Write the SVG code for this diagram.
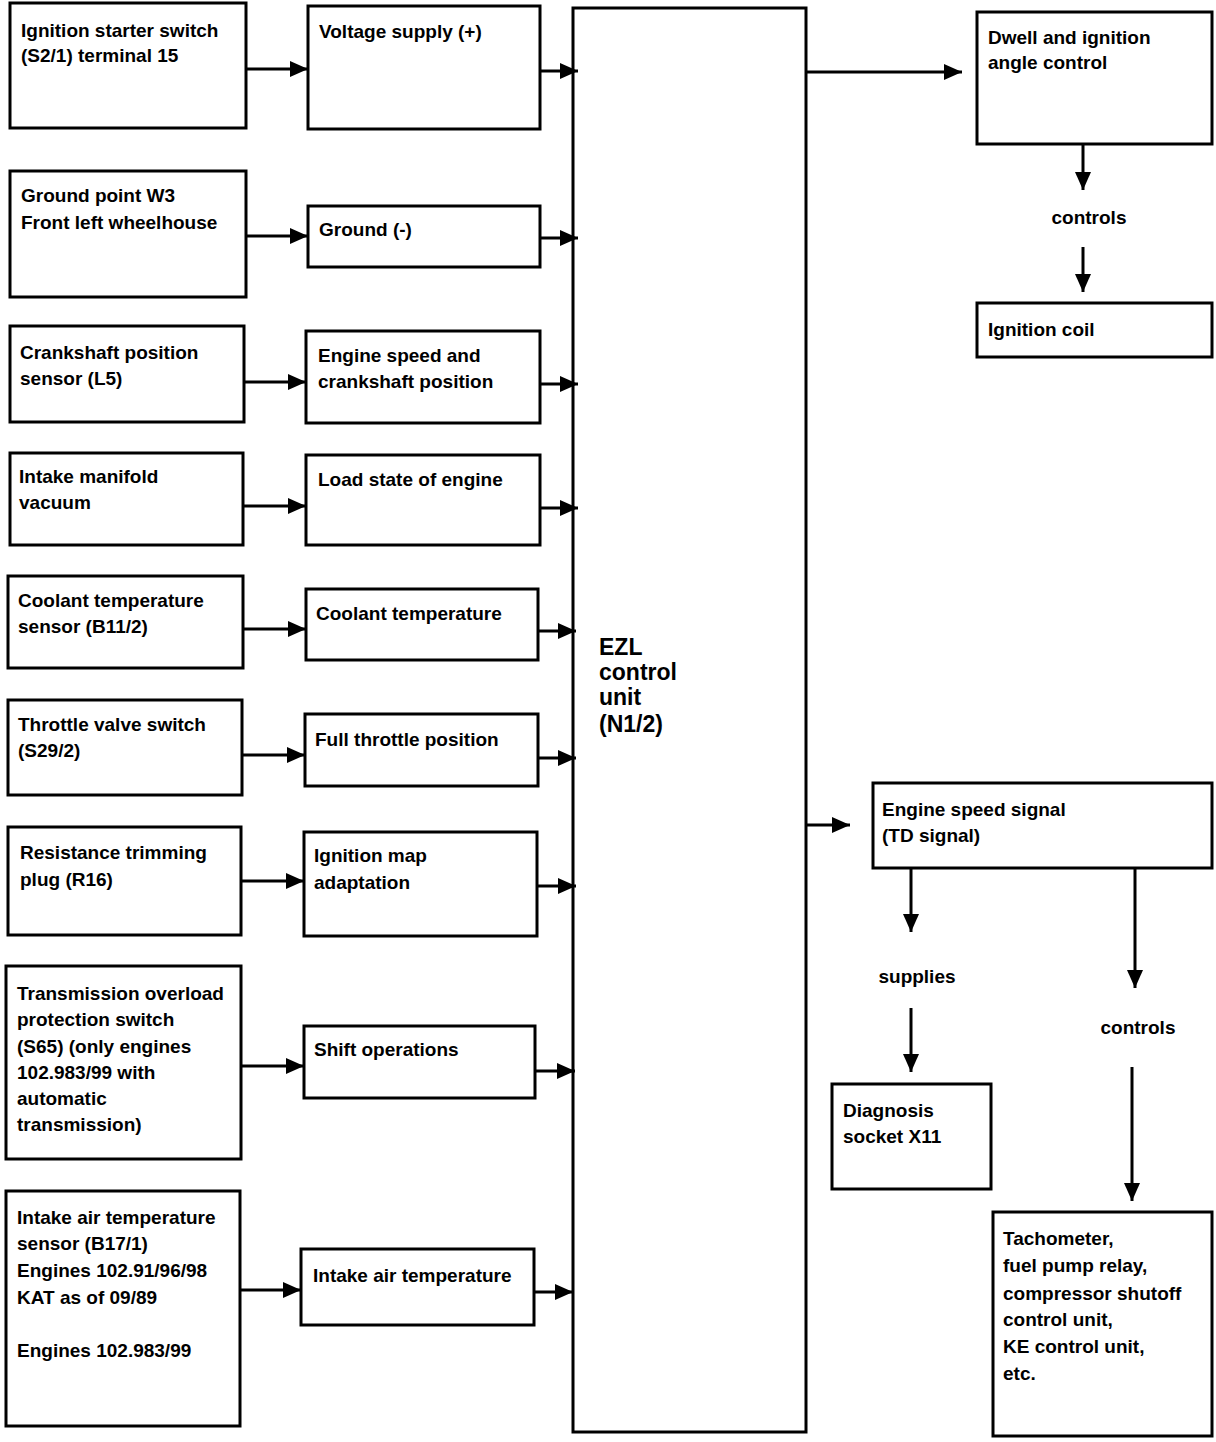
<svg xmlns="http://www.w3.org/2000/svg" width="1216" height="1442" viewBox="0 0 1216 1442">
<style>
.b{fill:#fff;stroke:#000;stroke-width:3}
.t{font-family:"Liberation Sans",Arial,sans-serif;font-size:19px;font-weight:bold;fill:#000}
.big{font-family:"Liberation Sans",Arial,sans-serif;font-size:23px;font-weight:bold;fill:#000}
.c{stroke:#000;stroke-width:3;fill:none;marker-end:url(#ah)}
</style>
<defs>
<marker id="ah" markerUnits="userSpaceOnUse" markerWidth="20" markerHeight="16" refX="18" refY="8" orient="auto">
<path d="M0,0 L18,8 L0,16 Z" fill="#000"/>
</marker>
</defs>
<rect width="1216" height="1442" fill="#fff"/>

<g id="n-ignition-switch"><rect class="b" x="10" y="3" width="236" height="125"/><text class="t" x="21" y="37">Ignition starter switch</text><text class="t" x="21" y="62">(S2/1) terminal 15</text></g>
<g id="n-voltage"><rect class="b" x="308" y="6" width="232" height="123"/><text class="t" x="319" y="38">Voltage supply (+)</text></g>
<g id="n-ground-point"><rect class="b" x="10" y="171" width="236" height="126"/><text class="t" x="21" y="202">Ground point W3</text><text class="t" x="21" y="229">Front left wheelhouse</text></g>
<g id="n-ground"><rect class="b" x="308" y="206" width="232" height="61"/><text class="t" x="319" y="236">Ground (-)</text></g>
<g id="n-crank-sensor"><rect class="b" x="10" y="326" width="234" height="96"/><text class="t" x="20" y="359">Crankshaft position</text><text class="t" x="20" y="385">sensor (L5)</text></g>
<g id="n-engine-speed"><rect class="b" x="306" y="331" width="234" height="92"/><text class="t" x="318" y="362">Engine speed and</text><text class="t" x="318" y="388">crankshaft position</text></g>
<g id="n-manifold"><rect class="b" x="10" y="453" width="233" height="92"/><text class="t" x="19" y="483">Intake manifold</text><text class="t" x="19" y="509">vacuum</text></g>
<g id="n-load"><rect class="b" x="306" y="455" width="234" height="90"/><text class="t" x="318" y="486">Load state of engine</text></g>
<g id="n-coolant-sensor"><rect class="b" x="8" y="576" width="235" height="92"/><text class="t" x="18" y="607">Coolant temperature</text><text class="t" x="18" y="633">sensor (B11/2)</text></g>
<g id="n-coolant"><rect class="b" x="306" y="589" width="232" height="71"/><text class="t" x="316" y="620">Coolant temperature</text></g>
<g id="n-throttle-switch"><rect class="b" x="8" y="700" width="234" height="95"/><text class="t" x="18" y="731">Throttle valve switch</text><text class="t" x="18" y="757">(S29/2)</text></g>
<g id="n-full-throttle"><rect class="b" x="305" y="714" width="233" height="72"/><text class="t" x="315" y="746">Full throttle position</text></g>
<g id="n-resistance"><rect class="b" x="8" y="827" width="233" height="108"/><text class="t" x="20" y="859">Resistance trimming</text><text class="t" x="20" y="886">plug (R16)</text></g>
<g id="n-map"><rect class="b" x="304" y="832" width="233" height="104"/><text class="t" x="314" y="862">Ignition map</text><text class="t" x="314" y="889">adaptation</text></g>
<g id="n-transmission"><rect class="b" x="6" y="966" width="235" height="193"/><text class="t" x="17" y="1000">Transmission overload</text><text class="t" x="17" y="1026">protection switch</text><text class="t" x="17" y="1053">(S65) (only engines</text><text class="t" x="17" y="1079">102.983/99 with</text><text class="t" x="17" y="1105">automatic</text><text class="t" x="17" y="1131">transmission)</text></g>
<g id="n-shift"><rect class="b" x="304" y="1026" width="231" height="72"/><text class="t" x="314" y="1056">Shift operations</text></g>
<g id="n-intake-sensor"><rect class="b" x="6" y="1191" width="234" height="235"/><text class="t" x="17" y="1224">Intake air temperature</text><text class="t" x="17" y="1250">sensor (B17/1)</text><text class="t" x="17" y="1277">Engines 102.91/96/98</text><text class="t" x="17" y="1304">KAT as of  09/89</text><text class="t" x="17" y="1357">Engines 102.983/99</text></g>
<g id="n-intake-temp"><rect class="b" x="301" y="1249" width="233" height="76"/><text class="t" x="313" y="1282">Intake air temperature</text></g>

<g id="n-ezl"><rect class="b" x="573" y="8" width="233" height="1424"/><text class="big" x="599" y="655">EZL</text><text class="big" x="599" y="680">control</text><text class="big" x="599" y="705">unit</text><text class="big" x="599" y="732">(N1/2)</text></g>

<g id="n-dwell"><rect class="b" x="977" y="12" width="235" height="132"/><text class="t" x="988" y="44">Dwell and ignition</text><text class="t" x="988" y="69">angle control</text></g>
<g id="n-coil"><rect class="b" x="977" y="303" width="235" height="54"/><text class="t" x="988" y="336">Ignition coil</text></g>
<g id="n-td"><rect class="b" x="873" y="783" width="339" height="85"/><text class="t" x="882" y="816">Engine speed signal</text><text class="t" x="882" y="842">(TD signal)</text></g>
<g id="n-diag"><rect class="b" x="832" y="1084" width="159" height="105"/><text class="t" x="843" y="1117">Diagnosis</text><text class="t" x="843" y="1143">socket X11</text></g>
<g id="n-tacho"><rect class="b" x="993" y="1212" width="219" height="224"/><text class="t" x="1003" y="1245">Tachometer,</text><text class="t" x="1003" y="1272">fuel pump relay,</text><text class="t" x="1003" y="1300">compressor shutoff</text><text class="t" x="1003" y="1326">control unit,</text><text class="t" x="1003" y="1353">KE control unit,</text><text class="t" x="1003" y="1380">etc.</text></g>

<g id="labels">
<text class="t" x="1089" y="224" text-anchor="middle">controls</text>
<text class="t" x="917" y="983" text-anchor="middle">supplies</text>
<text class="t" x="1138" y="1034" text-anchor="middle">controls</text>
</g>

<g id="connectors">
<line class="c" x1="246" y1="69" x2="308" y2="69"/>
<line class="c" x1="540" y1="71" x2="578" y2="71"/>
<line class="c" x1="246" y1="236" x2="308" y2="236"/>
<line class="c" x1="540" y1="238" x2="578" y2="238"/>
<line class="c" x1="244" y1="382" x2="306" y2="382"/>
<line class="c" x1="540" y1="384" x2="578" y2="384"/>
<line class="c" x1="243" y1="506" x2="306" y2="506"/>
<line class="c" x1="540" y1="508" x2="578" y2="508"/>
<line class="c" x1="243" y1="629" x2="306" y2="629"/>
<line class="c" x1="538" y1="631" x2="576" y2="631"/>
<line class="c" x1="242" y1="755" x2="305" y2="755"/>
<line class="c" x1="538" y1="758" x2="576" y2="758"/>
<line class="c" x1="241" y1="881" x2="304" y2="881"/>
<line class="c" x1="537" y1="886" x2="576" y2="886"/>
<line class="c" x1="241" y1="1066" x2="304" y2="1066"/>
<line class="c" x1="535" y1="1071" x2="575" y2="1071"/>
<line class="c" x1="240" y1="1290" x2="301" y2="1290"/>
<line class="c" x1="534" y1="1292" x2="573" y2="1292"/>
<line class="c" x1="806" y1="72" x2="962" y2="72"/>
<line class="c" x1="1083" y1="145" x2="1083" y2="190"/>
<line class="c" x1="1083" y1="247" x2="1083" y2="292"/>
<line class="c" x1="806" y1="825" x2="850" y2="825"/>
<line class="c" x1="911" y1="868" x2="911" y2="932"/>
<line class="c" x1="911" y1="1008" x2="911" y2="1072"/>
<line class="c" x1="1135" y1="868" x2="1135" y2="988"/>
<line class="c" x1="1132" y1="1067" x2="1132" y2="1201"/>
</g>
</svg>
